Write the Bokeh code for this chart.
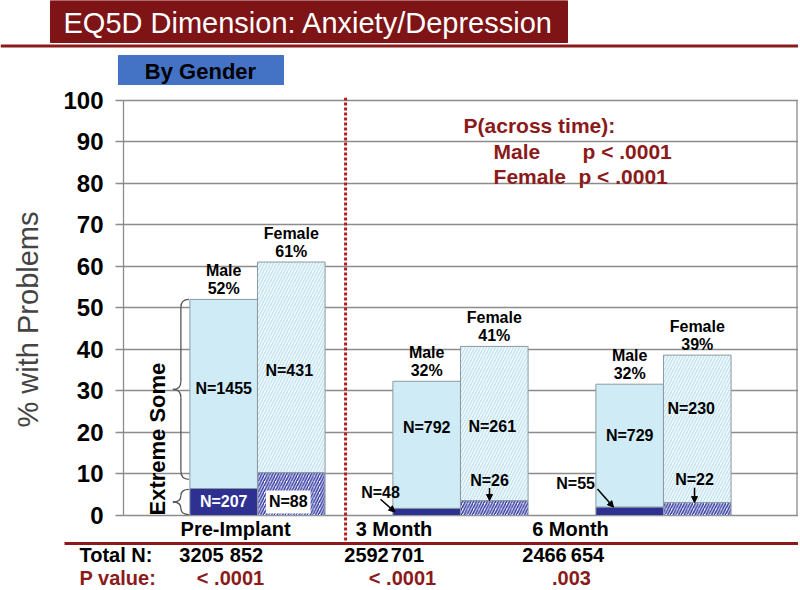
import math
from bokeh.plotting import figure
from bokeh.layouts import column
from bokeh.models import Range1d, FixedTicker, Label, Arrow, NormalHead, Span, ColumnDataSource
from bokeh.core.properties import value
from bokeh.embed import file_html
from bokeh.resources import INLINE

# ---------------- data ----------------
timepoints = ["Pre-Implant", "3 Month", "6 Month"]
male_total = [52.0, 32.3, 31.6]        # % with problems (some + extreme)
male_extreme = [6.5, 1.7, 2.0]
female_total = [61.0, 40.7, 38.6]
female_extreme = [10.3, 3.6, 3.1]
male_some_n = [1455, 792, 729]
male_extreme_n = [207, 48, 55]
female_some_n = [431, 261, 230]
female_extreme_n = [88, 26, 22]
male_total_n = [3205, 2592, 2466]
female_total_n = [852, 701, 654]
p_values = ["< .0001", "< .0001", ".003"]
across_groups = ["Male", "Female"]
across_p = ["p  < .0001", "p < .0001"]
y_ticks = [0, 10, 20, 30, 40, 50, 60, 70, 80, 90, 100]

# ---------------- style / layout ----------------
FONT = "Liberation Sans"
DARK_RED = "#8B1A1A"
TITLE_BG = "#7E1416"
GRID = "#8C8C8C"
MALE_SOME = "#CFECF6"
MALE_EXT = "#2E3192"
FEM_SOME_BG = "#F2FAFD"
FEM_SOME_HATCH = "#C2E2EE"
FEM_EXT_HATCH = "#3A3FA5"

W = 798
HEAD_H, MAIN_H, FOOT_H = 85, 456, 47
LEFT = 123
PX_X = 203.0            # px per x unit
PX_Y = 4.155            # px per % unit
X0 = -0.66
X1 = X0 + (W - LEFT) / PX_X
Y_TOP = 100 + 2.5 / PX_Y
Y_BOT = -26 / PX_Y
BAR_W = 0.333
OFF = 0.1665

def f_(**kw):
    return dict(text_font=value(FONT), **kw)

# ---------------- header ----------------
h = figure(width=W, height=HEAD_H, x_range=Range1d(0, W), y_range=Range1d(HEAD_H, 0),
           output_backend="svg", toolbar_location=None, min_border=0,
           x_axis_location=None, y_axis_location=None, frame_align=False)
h.grid.visible = False
h.outline_line_color = None
h.quad(left=[50], right=[567], top=[0], bottom=[42], fill_color=TITLE_BG, line_color=TITLE_BG)
h.text(x=[308], y=[22], text=["EQ5D Dimension: Anxiety/Depression"], text_color="white",
       text_font_size="29px", text_align="center", text_baseline="middle", **f_())
h.segment(x0=[0], y0=[45.5], x1=[W], y1=[45.5], line_color=DARK_RED, line_width=3)
h.quad(left=[118], right=[283], top=[55], bottom=[85], fill_color="#4472C4", line_color="#4472C4")
h.text(x=[200], y=[71], text=["By Gender"], text_color="black", text_font_size="22px",
       text_font_style="bold", text_align="center", text_baseline="middle", **f_())

# ---------------- main chart ----------------
p = figure(width=W, height=MAIN_H, x_range=Range1d(X0, X1), y_range=Range1d(Y_BOT, Y_TOP),
           output_backend="svg", toolbar_location=None, x_axis_location=None,
           min_border_left=LEFT, min_border_right=0, min_border_top=12, min_border_bottom=0,
           frame_align=False)
p.outline_line_color = None
p.xgrid.visible = False
p.ygrid.ticker = FixedTicker(ticks=y_ticks)
p.ygrid.grid_line_color = GRID
p.ygrid.grid_line_width = 1.3
ax = p.yaxis[0]
ax.ticker = FixedTicker(ticks=y_ticks)
ax.bounds = (0, 100)
ax.axis_line_color = GRID
ax.axis_line_width = 1.3
ax.major_tick_line_color = GRID
ax.major_tick_line_width = 1.3
ax.major_tick_out = 8
ax.major_tick_in = 0
ax.minor_tick_line_color = None
ax.major_label_text_font = FONT
ax.major_label_text_font_style = "bold"
ax.major_label_text_font_size = "24px"
ax.major_label_text_color = "black"
ax.major_label_standoff = 12
ax.axis_label = "% with Problems"
ax.axis_label_text_font = FONT
ax.axis_label_text_font_style = "normal"
ax.axis_label_text_font_size = "29px"
ax.axis_label_standoff = 16

idx = list(range(len(timepoints)))
mx = [i - OFF for i in idx]
fx = [i + OFF for i in idx]

# right frame border
xb = X1 - 1.5 / PX_X
p.segment(x0=[xb], y0=[0], x1=[xb], y1=[100], line_color=GRID, line_width=1.3)

src_m = ColumnDataSource(dict(x=mx, tot=male_total, ext=male_extreme, zero=[0] * 3))
src_f = ColumnDataSource(dict(x=fx, tot=female_total, ext=female_extreme, zero=[0] * 3))

p.vbar(x="x", width=BAR_W, bottom="ext", top="tot", source=src_m,
       fill_color=MALE_SOME, line_color="#8A9AA0", line_width=1)
p.vbar(x="x", width=BAR_W, bottom="zero", top="ext", source=src_m,
       fill_color=MALE_EXT, line_color="#8A9AA0", line_width=1)
p.vbar(x="x", width=BAR_W, bottom="ext", top="tot", source=src_f,
       fill_color=FEM_SOME_BG, hatch_pattern="/", hatch_color=FEM_SOME_HATCH,
       hatch_scale=6, hatch_weight=1.3, line_color="#8A9AA0", line_width=1)
p.vbar(x="x", width=BAR_W, bottom="zero", top="ext", source=src_f,
       fill_color="white", hatch_pattern="/", hatch_color=FEM_EXT_HATCH,
       hatch_scale=5.5, hatch_weight=1.6, line_color="#8A9AA0", line_width=1)

# labels above bars
for xs, tots, name in ((mx, male_total, "Male"), (fx, female_total, "Female")):
    p.text(x=xs, y=tots, text=[f"{round(v)}%" for v in tots], y_offset=-11,
           text_font_size="16px", text_font_style="bold", text_align="center",
           text_baseline="middle", text_color="black", **f_())
    p.text(x=xs, y=tots, text=[name] * len(xs), y_offset=-29,
           text_font_size="16px", text_font_style="bold", text_align="center",
           text_baseline="middle", text_color="black", **f_())

# N labels in "some" segments
male_some_label_y = [30.6, 21.2, 19.3]
female_some_label_y = [34.9, 21.4, 25.8]
p.text(x=mx, y=male_some_label_y, text=[f"N={n}" for n in male_some_n],
       text_font_size="16px", text_font_style="bold", text_align="center",
       text_baseline="middle", text_color="black", **f_())
p.text(x=[fx[0] - 0.01, fx[1] - 0.01, fx[2] - 0.03], y=female_some_label_y,
       text=[f"N={n}" for n in female_some_n],
       text_font_size="16px", text_font_style="bold", text_align="center",
       text_baseline="middle", text_color="black", **f_())

# extreme labels
p.add_layout(Label(x=mx[0], y=male_extreme[0] / 2, text=f"N={male_extreme_n[0]}", text_color="white",
                   text_font=FONT, text_font_style="bold", text_font_size="16px",
                   text_align="center", text_baseline="middle"))
p.add_layout(Label(x=fx[0] - 0.015, y=male_extreme[0] / 2, text=f"N={female_extreme_n[0]}", text_color="black",
                   text_font=FONT, text_font_style="bold", text_font_size="16px",
                   text_align="center", text_baseline="middle",
                   background_fill_color="white", padding=3))
ext_labels = [
    # (text, label x, label y, arrow start x, y, arrow end x, y)
    (f"N={male_extreme_n[1]}", 0.606, 5.5, 0.606, 3.9, mx[1] - BAR_W / 2 + 0.01, male_extreme[1] / 2),
    (f"N={female_extreme_n[1]}", 1.143, 8.4, 1.143, 6.6, 1.143, female_extreme[1]),
    (f"N={male_extreme_n[2]}", 1.567, 7.7, 1.675, 6.4, 1.754, male_extreme[2]),
    (f"N={female_extreme_n[2]}", 2.153, 8.7, 2.153, 6.7, 2.153, female_extreme[2]),
]
for t, lx, ly, sx, sy, ex, ey in ext_labels:
    p.add_layout(Label(x=lx, y=ly, text=t, text_color="black", text_font=FONT,
                       text_font_style="bold", text_font_size="16px",
                       text_align="center", text_baseline="middle"))
    p.add_layout(Arrow(end=NormalHead(size=6, fill_color="black", line_color="black"),
                       x_start=sx, y_start=sy, x_end=ex, y_end=ey,
                       line_color="black", line_width=1.5))

# braces next to the Pre-Implant male bar
def brace(xr, y0, y1):
    dx = 8 / PX_X
    r = min(8 / PX_Y, (y1 - y0) / 4)
    xs = xr - dx
    xt = xs - dx
    ym = (y0 + y1) / 2
    q = dict(x0=[xr, xs, xt, xs], y0=[y1, ym + r, ym, y0 + r],
             x1=[xs, xt, xs, xr], y1=[y1 - r, ym, ym - r, y0],
             cx=[xs, xs, xs, xs], cy=[y1, ym, ym, y0])
    p.quadratic(source=ColumnDataSource(q), x0="x0", y0="y0", x1="x1", y1="y1", cx="cx", cy="cy",
                line_color="#555555", line_width=1.3)
    p.segment(x0=[xs, xs], y0=[y1 - r, ym - r], x1=[xs, xs], y1=[ym + r, y0 + r],
              line_color="#555555", line_width=1.3)

bar_left = mx[0] - BAR_W / 2 - 1 / PX_X
brace(bar_left, 0.2, male_extreme[0] - 0.2)
brace(bar_left, male_extreme[0] + 2.2, male_total[0])
p.text(x=[-0.4925], y=[0], text=["Extreme Some"], angle=math.pi / 2, text_font_size="22px",
       text_font_style="bold", text_align="left", text_baseline="middle", text_color="black", **f_())

# dotted separator
p.add_layout(Span(location=0.434, dimension="height", line_color="#B0201F",
                  line_width=3, line_dash="3 2"))

# time point labels
cat_label_x = [-0.108, 0.6725, 1.542]
p.text(x=cat_label_x, y=[-3.13] * 3, text=timepoints, text_font_size="20px", text_font_style="bold",
       text_align="center", text_baseline="middle", text_color="black", **f_())

# P(across time)
p.text(x=[1.015], y=[93.9], text=["P(across time):"], text_color=DARK_RED, text_font_size="21px",
       text_font_style="bold", text_align="left", text_baseline="middle", **f_())
p.text(x=[1.163, 1.163], y=[87.6, 81.6], text=across_groups, text_color=DARK_RED, text_font_size="21px",
       text_font_style="bold", text_align="left", text_baseline="middle", **f_())
p.text(x=[1.601, 1.581], y=[87.6, 81.6], text=across_p, text_color=DARK_RED, text_font_size="21px",
       text_font_style="bold", text_align="left", text_baseline="middle", **f_())

# ---------------- footer ----------------
ft = figure(width=W, height=FOOT_H, x_range=Range1d(0, W), y_range=Range1d(FOOT_H, 0),
            output_backend="svg", toolbar_location=None, min_border=0,
            x_axis_location=None, y_axis_location=None, frame_align=False)
ft.grid.visible = False
ft.outline_line_color = None
ft.segment(x0=[64], y0=[2], x1=[W], y1=[2], line_color=DARK_RED, line_width=3)
ft.text(x=[79], y=[13], text=["Total N:"], text_color="black", text_font_size="20px",
        text_font_style="bold", text_align="left", text_baseline="middle", **f_())
ft.text(x=[79], y=[36], text=["P value:"], text_color=DARK_RED, text_font_size="20px",
        text_font_style="bold", text_align="left", text_baseline="middle", **f_())
ft.text(x=[201, 366, 544], y=[13] * 3, text=[str(n) for n in male_total_n], text_color="black",
        text_font_size="20px", text_font_style="bold", text_align="center", text_baseline="middle", **f_())
ft.text(x=[246, 407, 587], y=[13] * 3, text=[str(n) for n in female_total_n], text_color="black",
        text_font_size="20px", text_font_style="bold", text_align="center", text_baseline="middle", **f_())
ft.text(x=[230, 402, 571], y=[36] * 3, text=p_values, text_color=DARK_RED,
        text_font_size="20px", text_font_style="bold", text_align="center", text_baseline="middle", **f_())

layout = column(h, p, ft, spacing=0)
open("out.html", "w").write(file_html(layout, INLINE))
